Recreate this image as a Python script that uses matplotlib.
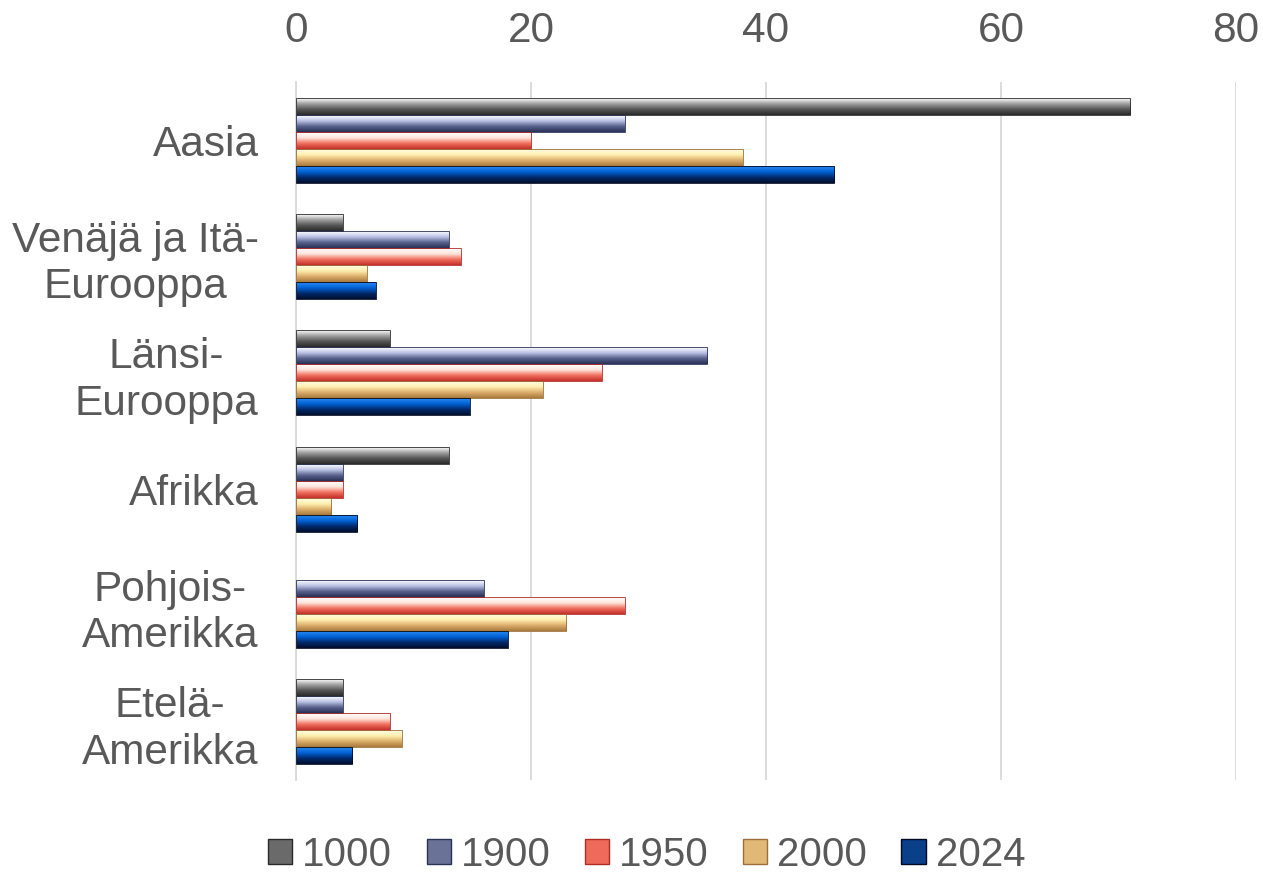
import numpy as np
import matplotlib.pyplot as plt
from matplotlib.colors import LinearSegmentedColormap
from matplotlib.patches import Patch

plt.rcParams['font.family'] = ['Liberation Sans', 'DejaVu Sans']

# data
regions = ["Aasia", "Venäjä ja Itä-\nEurooppa", "Länsi-\nEurooppa", "Afrikka",
           "Pohjois-\nAmerikka", "Etelä-\nAmerikka"]
years = ["1000", "1900", "1950", "2000", "2024"]
v1000 = [71, 4, 8, 13, 0, 4]
v1900 = [28, 13, 35, 4, 16, 4]
v1950 = [20, 14, 26, 4, 28, 8]
v2000 = [38, 6, 21, 3, 23, 9]
v2024 = [45.8, 6.8, 14.8, 5.2, 18, 4.8]
series = [v1000, v1900, v1950, v2000, v2024]

# gradient stops top -> bottom for each series
grads = [
    ['#ffffff', '#a0a0a0', '#565656', '#2a2a2a'],
    ['#ffffff', '#bcc2e6', '#58628c', '#2a3156'],
    ['#ffffff', '#ffe6dc', '#f0705e', '#c4302c'],
    ['#fffde6', '#fff0b0', '#dcae6c', '#a87a3c'],
    ['#2a88f4', '#0062d4', '#002a6c', '#000e2c'],
]
mids = ['#6a6a6a', '#6a7298', '#ee6a5a', '#e2b878', '#0a3f8a']
edges = ['#2a2a2a', '#2a3156', '#b02a26', '#9a7038', '#000a20']

txt = '#595959'

fig = plt.figure(figsize=(12.63, 8.8), dpi=100)
ax = fig.add_axes([0.2344, 0.1136, 0.7442, 0.7932])

h = 0.146
y = np.arange(len(regions))
for j, vals in enumerate(series):
    cmap = LinearSegmentedColormap.from_list('g%d' % j, grads[j])
    grad = np.linspace(0, 1, 64).reshape(-1, 1)
    for i, v in enumerate(vals):
        if v <= 0:
            continue
        yc = y[i] + (j - 2) * h
        ax.imshow(grad, cmap=cmap, aspect='auto', interpolation='bilinear',
                  extent=[0, v, yc + h / 2, yc - h / 2], zorder=2)
        ax.barh(yc, v, height=h, facecolor='none', edgecolor=edges[j],
                linewidth=0.6, zorder=3)

ax.set_xlim(0, 80)
ax.set_ylim(len(regions) - 0.5, -0.5)
ax.set_xticks([0, 20, 40, 60, 80])
ax.set_yticks(y)
ax.set_yticklabels(regions)
for lab in ax.get_yticklabels():
    lab.set_multialignment('center')
ax.xaxis.tick_top()
ax.tick_params(axis='x', length=0, pad=22, labelsize=30.5, labelcolor=txt)
ax.tick_params(axis='y', length=0, pad=27, labelsize=30.5, labelcolor=txt)
ax.grid(axis='x', color='#d9d9d9', linewidth=1.3, zorder=0)
ax.set_axisbelow(True)
for s in ['top', 'right', 'bottom']:
    ax.spines[s].set_visible(False)
ax.spines['left'].set_color('#d9d9d9')
ax.spines['left'].set_linewidth(1.3)

handles = [Patch(facecolor=mids[j], edgecolor=edges[j], label=years[j]) for j in range(5)]
fig.legend(handles=handles, loc='lower center', bbox_to_anchor=(0.512, -0.034), ncol=5,
           frameon=False, fontsize=29, labelcolor=txt, handlelength=0.6, handleheight=0.6,
           handletextpad=0.25, columnspacing=0.85)

fig.savefig('out.png', dpi=100)
